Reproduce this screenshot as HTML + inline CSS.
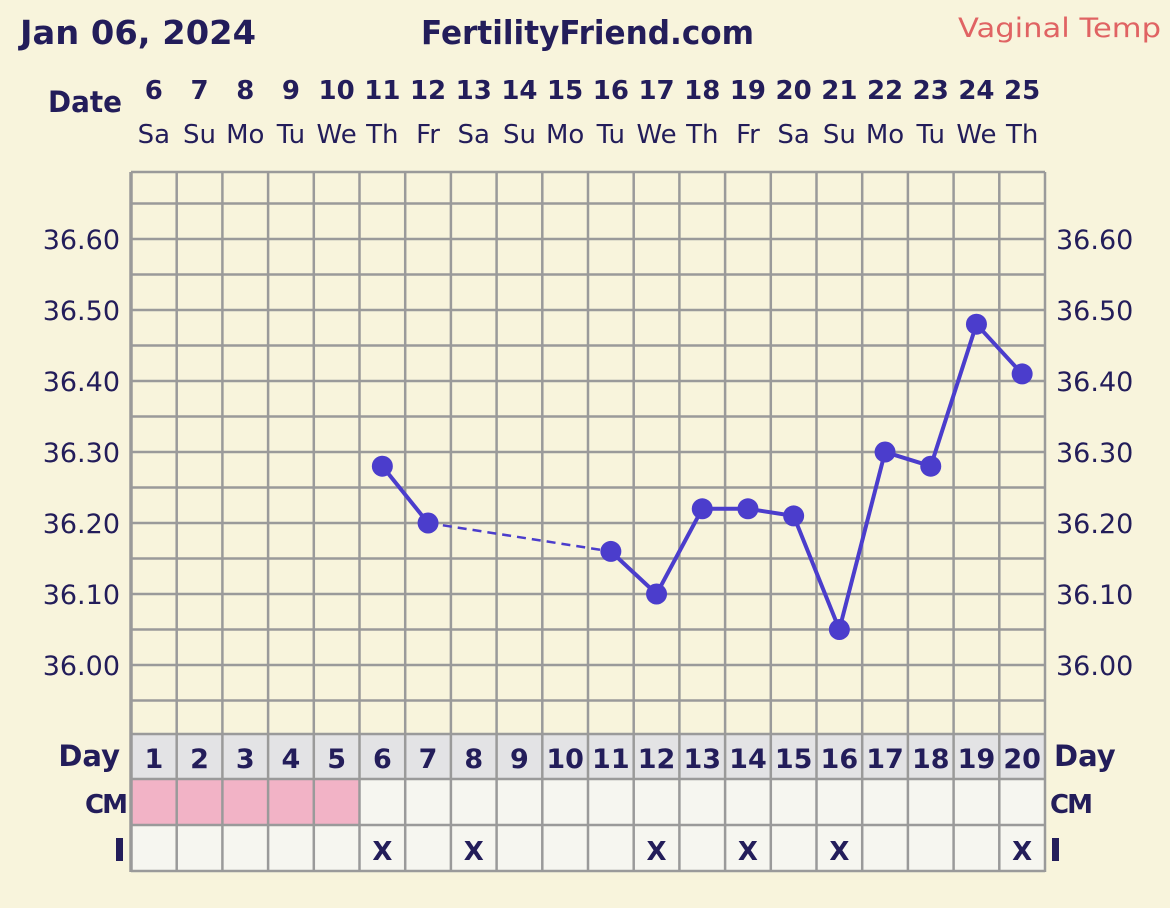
<!DOCTYPE html>
<html><head><style>
html,body{margin:0;padding:0;background:#f8f4dc;}
svg{display:block;}
text{font-family:"DejaVu Sans","Liberation Sans",sans-serif;fill:#231d5a;}
</style></head><body>
<svg width="1170" height="908" viewBox="0 0 1170 908" xmlns="http://www.w3.org/2000/svg">
<rect width="1170" height="908" fill="#f8f4dc"/>
<text x="20" y="44" font-size="33" font-weight="bold" textLength="236" lengthAdjust="spacingAndGlyphs">Jan 06, 2024</text>
<text x="421" y="44" font-size="33" font-weight="bold" textLength="333" lengthAdjust="spacingAndGlyphs">FertilityFriend.com</text>
<text x="958" y="37" font-size="27" style="fill:#e06363" textLength="203" lengthAdjust="spacingAndGlyphs">Vaginal Temp</text>
<text x="48" y="112" font-size="29" font-weight="bold" textLength="74" lengthAdjust="spacingAndGlyphs">Date</text>
<g id="top"></g>
<g id="grid"></g>
<g id="rows"></g>
<g id="lbl"></g>
<g id="data"></g>
</svg>
<script>
const NS="http://www.w3.org/2000/svg";
function el(p,t,a,txt){const e=document.createElementNS(NS,t);for(const k in a)e.setAttribute(k,a[k]);if(txt!==undefined)e.textContent=txt;document.getElementById(p).appendChild(e);return e;}
const L=131,W=45.7,n=20;
const cx=i=>L+W*(i-0.5);
const dates=[6,7,8,9,10,11,12,13,14,15,16,17,18,19,20,21,22,23,24,25];
const wd=["Sa","Su","Mo","Tu","We","Th","Fr","Sa","Su","Mo","Tu","We","Th","Fr","Sa","Su","Mo","Tu","We","Th"];
for(let i=1;i<=n;i++){
 el("top","text",{x:cx(i),y:99,"font-size":26,"font-weight":"bold","text-anchor":"middle"},dates[i-1]);
 el("top","text",{x:cx(i),y:143,"font-size":26,"text-anchor":"middle"},wd[i-1]);
}
// chart area grid
const R=L+W*n;
for(let y=239-35.5*2;y<=736;y+=35.5){ if(y<171)continue; el("grid","line",{x1:L,x2:R,y1:y,y2:y,stroke:"#9a9a9a","stroke-width":2.5});}
el("grid","line",{x1:L,x2:R,y1:172,y2:172,stroke:"#9a9a9a","stroke-width":2.5});
// rows
for(let i=1;i<=n;i++){
 const x=L+W*(i-1);
 el("rows","rect",{x:x,y:734,width:W,height:45,fill:"#e3e3e5"});
 el("rows","rect",{x:x,y:779,width:W,height:46,fill:i<=5?"#f2b3c6":"#f6f6f0"});
 el("rows","rect",{x:x,y:825,width:W,height:46,fill:"#f6f6f0"});
 el("rows","text",{x:cx(i),y:768,"font-size":27,"font-weight":"bold","text-anchor":"middle"},i);
}
[734,779,825,871].forEach(y=>el("rows","line",{x1:L,x2:R,y1:y,y2:y,stroke:"#9a9a9a","stroke-width":2.5}));
for(let i=0;i<=n;i++){const x=L+W*i;el("rows","line",{x1:x,x2:x,y1:172,y2:872,stroke:"#9a9a9a","stroke-width":i==0?3.5:2.5});}
[6,8,12,14,16,20].forEach(i=>el("rows","text",{x:cx(i),y:860,"font-size":26,"font-weight":"bold","text-anchor":"middle"},"X"));
// labels
const temps=["36.60","36.50","36.40","36.30","36.20","36.10","36.00"];
temps.forEach((t,k)=>{const y=239+71*k+10;
 el("lbl","text",{x:120,y:y,"font-size":27,"text-anchor":"end"},t);
 el("lbl","text",{x:1056,y:y,"font-size":27},t);});
el("lbl","text",{x:120,y:766,"font-size":29,"font-weight":"bold","text-anchor":"end"},"Day");
el("lbl","text",{x:1054,y:766,"font-size":29,"font-weight":"bold"},"Day");
el("lbl","text",{x:126,y:813,"font-size":26,"font-weight":"bold","text-anchor":"end","letter-spacing":"-2"},"CM");
el("lbl","text",{x:1050,y:813,"font-size":26,"font-weight":"bold","letter-spacing":"-2"},"CM");
el("lbl","rect",{x:116,y:838,width:7,height:23,fill:"#231d5a"});
el("lbl","rect",{x:1052,y:838,width:7,height:23,fill:"#231d5a"});
// data
const pts=[[6,36.28],[7,36.20],[11,36.16],[12,36.10],[13,36.22],[14,36.22],[15,36.21],[16,36.05],[17,36.30],[18,36.28],[19,36.48],[20,36.41]];
const P=pts.map(([i,v])=>[cx(i),239+(36.60-v)*710]);
const C="#4b3dcc";
for(let k=0;k<P.length-1;k++){
 const a={x1:P[k][0],y1:P[k][1],x2:P[k+1][0],y2:P[k+1][1],stroke:C,"stroke-width":k==1?2.5:4};
 if(k==1)a["stroke-dasharray"]="9,6";
 el("data","line",a);
}
P.forEach(p=>el("data","circle",{cx:p[0],cy:p[1],r:10.5,fill:C}));
</script>
</body></html>
